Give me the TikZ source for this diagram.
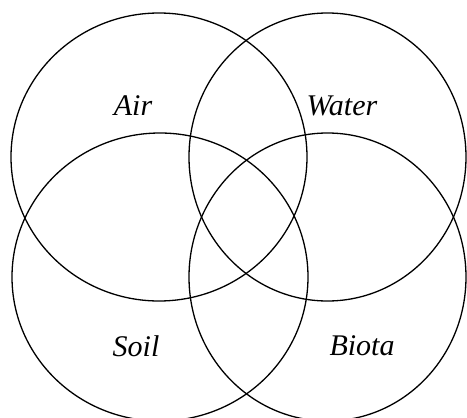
\documentclass[tikz,border=0pt]{standalone}
\usepackage{fontspec}
\setmainfont{Liberation Serif}
\begin{document}
\begin{tikzpicture}[x=1pt,y=-1pt,
  ring/.style={draw=black,line width=1.3pt},
  lbl/.style={font=\fontsize{30}{36}\selectfont\itshape,inner sep=0pt}]
\useasboundingbox (0,0) rectangle (467,418);
\draw[ring] (159,157) ellipse [x radius=148, y radius=144];
\draw[ring] (327.5,157) ellipse [x radius=138.5, y radius=144];
\draw[ring] (160,277) ellipse [x radius=148, y radius=144];
\draw[ring] (327.5,277) ellipse [x radius=138.5, y radius=144];
\node[lbl] (air) at (133,106) {Air};
\node[lbl] (water) at (342,106) {Water};
\node[lbl] (soil) at (136,346) {Soil};
\node[lbl] (biota) at (362,346) {Biota};
\end{tikzpicture}
\end{document}
